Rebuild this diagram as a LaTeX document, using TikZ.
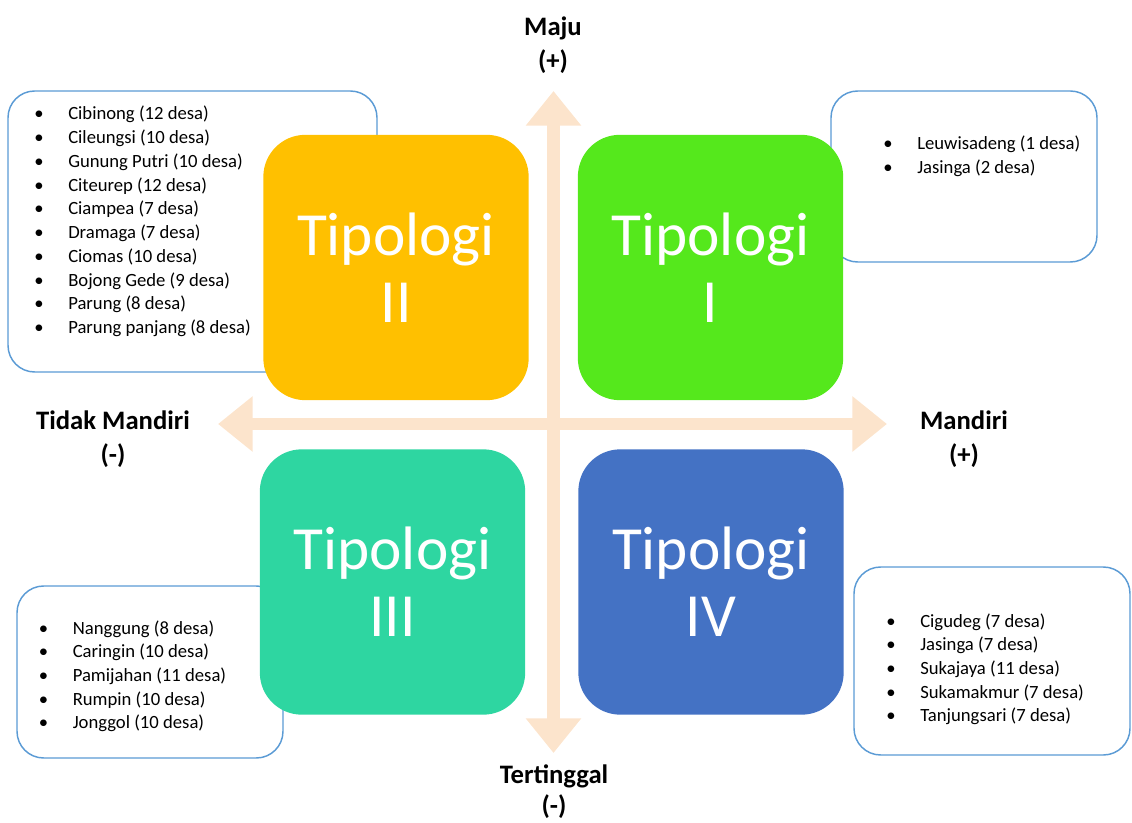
\documentclass[tikz,border=0pt]{standalone}
\usepackage{fontspec}
\setmainfont{Carlito}
\usetikzlibrary{arrows.meta}
\definecolor{peach}{HTML}{FCE4CC}
\definecolor{cOrange}{HTML}{FFC000}
\definecolor{cGreen}{HTML}{55E81C}
\definecolor{cTeal}{HTML}{2ED6A1}
\definecolor{cBlue}{HTML}{4472C4}
\definecolor{cBorder}{HTML}{5B9BD5}
\begin{document}
\begin{tikzpicture}[x=0.75pt,y=-0.75pt,
  infobox/.style={draw=cBorder, line width=1.1pt, fill=white, rounded corners=20pt, inner sep=0pt, outer sep=0pt},
  listtext/.style={anchor=base west, inner sep=0pt, font=\fontsize{14}{17.8}\selectfont},
  tipo/.style={rounded corners=31.5pt, minimum width=199pt, minimum height=199pt, inner sep=0pt, text=white, align=center, font=\fontsize{46}{50.25}\selectfont},
  axislabel/.style={anchor=base, inner sep=0pt, font=\bfseries\fontsize{20}{25.5}\selectfont},
  axisarrow/.style={draw=peach, line width=9.6pt, {Triangle[width=40pt,length=26pt]}-{Triangle[width=40pt,length=26pt]}}
]
\useasboundingbox (0,0) rectangle (1132,823);

% info boxes
\node[infobox, minimum width=276.75pt, minimum height=210.75pt] (b2) at (192.5,231.5) {};
\node[infobox, minimum width=199.5pt, minimum height=128.25pt] (b1) at (964,176.5) {};
\node[infobox, minimum width=199.5pt, minimum height=129pt] (b3) at (150,672) {};
\node[infobox, minimum width=207pt, minimum height=141pt] (b4) at (992,661) {};

% lists
\node[listtext] (l2) at (34,120) {\begin{tabular}[t]{@{}p{25.5pt}@{}l@{}}
•&Cibinong (12 desa)\\
•&Cileungsi (10 desa)\\
•&Gunung Putri (10 desa)\\
•&Citeurep (12 desa)\\
•&Ciampea (7 desa)\\
•&Dramaga (7 desa)\\
•&Ciomas (10 desa)\\
•&Bojong Gede (9 desa)\\
•&Parung (8 desa)\\
•&Parung panjang (8 desa)
\end{tabular}};
\node[listtext] (l1) at (883,150) {\begin{tabular}[t]{@{}p{25.5pt}@{}l@{}}
•&Leuwisadeng (1 desa)\\
•&Jasinga (2 desa)
\end{tabular}};
\node[listtext] (l3) at (38.5,634) {\begin{tabular}[t]{@{}p{25.5pt}@{}l@{}}
•&Nanggung (8 desa)\\
•&Caringin (10 desa)\\
•&Pamijahan (11 desa)\\
•&Rumpin (10 desa)\\
•&Jonggol (10 desa)
\end{tabular}};
\node[listtext] (l4) at (886,627) {\begin{tabular}[t]{@{}p{25.5pt}@{}l@{}}
•&Cigudeg (7 desa)\\
•&Jasinga (7 desa)\\
•&Sukajaya (11 desa)\\
•&Sukamakmur (7 desa)\\
•&Tanjungsari (7 desa)
\end{tabular}};

% axes
\coordinate (up) at (553.5,91);
\coordinate (down) at (553.5,753);
\coordinate (left) at (218,424);
\coordinate (right) at (887,424);
\draw[axisarrow] (down) -- (up);
\draw[axisarrow] (left) -- (right);

% quadrants
\node[tipo, fill=cOrange] (t2) at (396,267.5) {Tipologi\\II};
\node[tipo, fill=cGreen] (t1) at (710.5,267.5) {Tipologi\\I};
\node[tipo, fill=cTeal] (t3) at (392.5,582) {Tipologi\\III};
\node[tipo, fill=cBlue] (t4) at (711,582) {Tipologi\\IV};

% axis labels
\node[axislabel] (maju) at (553,36) {\begin{tabular}[t]{@{}c@{}}Maju\\(+)\end{tabular}};
\node[axislabel] (tm) at (113,430) {\begin{tabular}[t]{@{}c@{}}Tidak Mandiri\\(-)\end{tabular}};
\node[axislabel] (md) at (964,430) {\begin{tabular}[t]{@{}c@{}}Mandiri\\(+)\end{tabular}};
\node[axislabel] (tt) at (554,783) {\begin{tabular}[t]{@{}c@{}}Tertinggal\\[-2pt](-)\end{tabular}};
\end{tikzpicture}
\end{document}
